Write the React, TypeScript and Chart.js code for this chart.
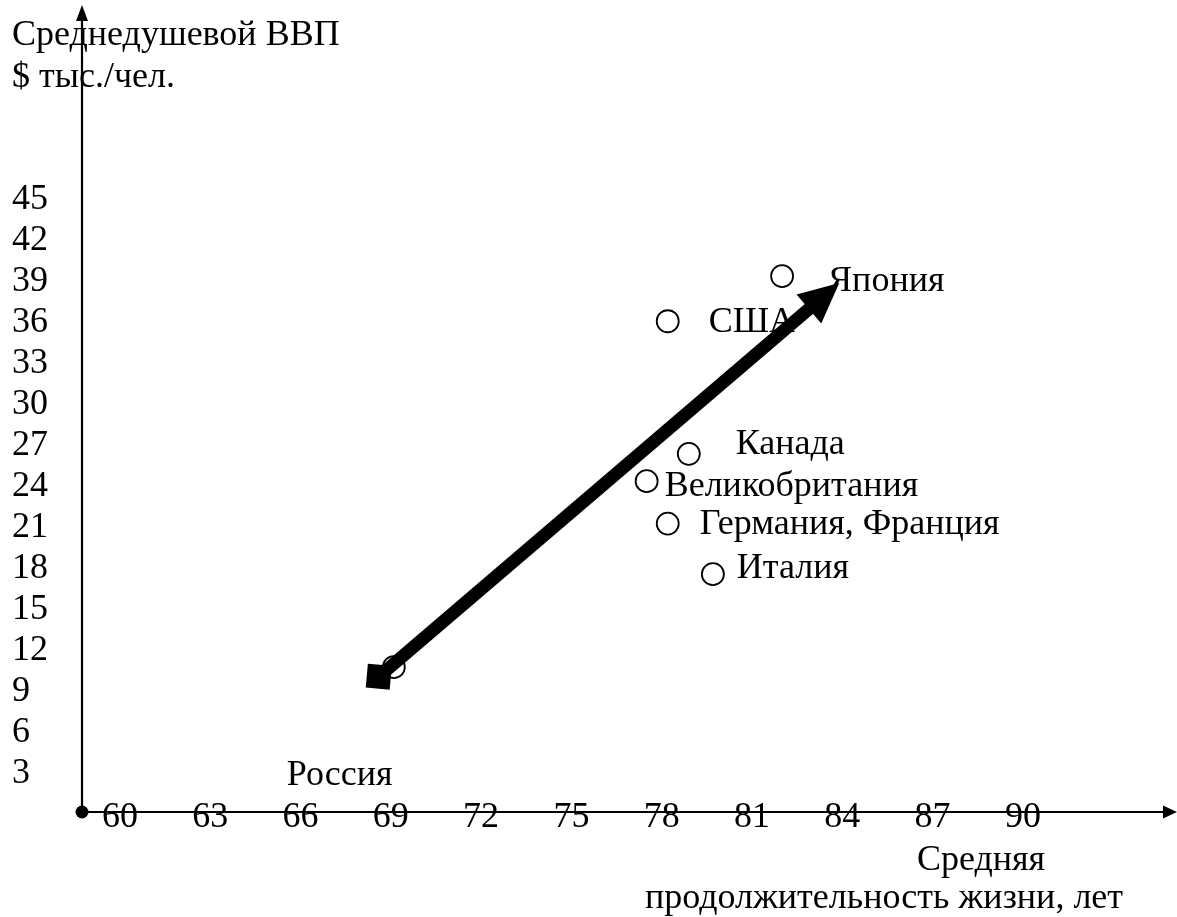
import React, { useEffect, useRef } from "react";
import { Chart, registerables } from "chart.js";

Chart.register(...registerables);

// ---- data ----
const countries = ["Россия", "Япония", "США", "Канада", "Великобритания", "Германия, Франция", "Италия"];
const lifeExpectancy = [69.1, 82.0, 78.2, 78.9, 77.5, 78.2, 79.7];
const gdpPerCapita = [10.6, 39.2, 35.9, 26.2, 24.2, 21.1, 17.4];
const xTickValues = [60, 63, 66, 69, 72, 75, 78, 81, 84, 87, 90];
const yTickValues = [3, 6, 9, 12, 15, 18, 21, 24, 27, 30, 33, 36, 39, 42, 45];
const trendX = [68.6, 83.9];
const trendY = [9.9, 38.7];
const yTitleLines = ["Среднедушевой ВВП", "$ тыс./чел."];
const xTitleLines = ["Средняя", "продолжительность жизни, лет"];

// label placement relative to each point (pixels: dx to text start, dy to baseline)
const labelOffsets: [number, number][] = [
  [-107, 118],
  [46, 15],
  [41, 11],
  [47, 0],
  [18, 15],
  [32, 10],
  [24, 4],
];

const FONT = '36px "Liberation Serif", "Times New Roman", serif';

const overlayPlugin = {
  id: "overlay",
  beforeDatasetsDraw(chart: any) {
    const { ctx, chartArea, scales } = chart;
    const x = scales.x;
    const y = scales.y;
    const ox = chartArea.left;
    const oy = y.getPixelForValue(0);
    ctx.save();
    ctx.strokeStyle = "#000";
    ctx.fillStyle = "#000";
    ctx.lineWidth = 2.2;
    // y axis
    ctx.beginPath();
    ctx.moveTo(ox, oy);
    ctx.lineTo(ox, chartArea.top + 10);
    ctx.stroke();
    ctx.beginPath();
    ctx.moveTo(ox, chartArea.top - 1);
    ctx.lineTo(ox - 6, chartArea.top + 15);
    ctx.lineTo(ox + 6, chartArea.top + 15);
    ctx.closePath();
    ctx.fill();
    // x axis
    ctx.beginPath();
    ctx.moveTo(ox, oy);
    ctx.lineTo(chartArea.right - 10, oy);
    ctx.stroke();
    ctx.beginPath();
    ctx.moveTo(chartArea.right, oy);
    ctx.lineTo(chartArea.right - 14, oy - 6.5);
    ctx.lineTo(chartArea.right - 14, oy + 6.5);
    ctx.closePath();
    ctx.fill();
    // origin dot
    ctx.beginPath();
    ctx.arc(ox, oy, 6.5, 0, Math.PI * 2);
    ctx.fill();

    ctx.font = FONT;
    ctx.textBaseline = "alphabetic";
    // y tick labels
    ctx.textAlign = "left";
    yTickValues.forEach((v) => {
      ctx.fillText(String(v), 12, y.getPixelForValue(v) + 12);
    });
    // x tick labels
    ctx.textAlign = "center";
    xTickValues.forEach((v) => {
      ctx.fillText(String(v), x.getPixelForValue(v), oy + 15);
    });
    // axis titles
    ctx.textAlign = "left";
    ctx.fillText(yTitleLines[0], 12, 45);
    ctx.fillText(yTitleLines[1], 12, 87);
    ctx.textAlign = "center";
    ctx.fillText(xTitleLines[0], 981, 870);
    ctx.fillText(xTitleLines[1], 884, 908);
    ctx.restore();
  },
  afterDatasetsDraw(chart: any) {
    const { ctx, scales } = chart;
    const x = scales.x;
    const y = scales.y;
    ctx.save();
    ctx.fillStyle = "#000";
    ctx.strokeStyle = "#000";
    // country labels
    ctx.font = FONT;
    ctx.textAlign = "left";
    ctx.textBaseline = "alphabetic";
    countries.forEach((name, i) => {
      const px = x.getPixelForValue(lifeExpectancy[i]);
      const py = y.getPixelForValue(gdpPerCapita[i]);
      ctx.fillText(name, px + labelOffsets[i][0], py + labelOffsets[i][1]);
    });
    // trend arrow
    const x0 = x.getPixelForValue(trendX[0]);
    const y0 = y.getPixelForValue(trendY[0]);
    const x1 = x.getPixelForValue(trendX[1]);
    const y1 = y.getPixelForValue(trendY[1]);
    const ang = Math.atan2(y1 - y0, x1 - x0);
    const headLen = 40;
    const headW = 38;
    const bx = x1 - headLen * Math.cos(ang);
    const by = y1 - headLen * Math.sin(ang);
    ctx.lineWidth = 13;
    ctx.beginPath();
    ctx.moveTo(x0, y0);
    ctx.lineTo(bx + 4 * Math.cos(ang), by + 4 * Math.sin(ang));
    ctx.stroke();
    const nx = -Math.sin(ang);
    const ny = Math.cos(ang);
    ctx.beginPath();
    ctx.moveTo(x1, y1);
    ctx.lineTo(bx + (nx * headW) / 2, by + (ny * headW) / 2);
    ctx.lineTo(bx - (nx * headW) / 2, by - (ny * headW) / 2);
    ctx.closePath();
    ctx.fill();
    // square at the start
    ctx.translate(x0, y0);
    ctx.rotate((5 * Math.PI) / 180);
    ctx.fillRect(-12, -12, 24, 24);
    ctx.restore();
  },
};

export default function App() {
  const canvasRef = useRef<HTMLCanvasElement | null>(null);

  useEffect(() => {
    const canvas = canvasRef.current;
    if (!canvas) return;
    const chart = new Chart(canvas, {
      type: "scatter",
      data: {
        datasets: [
          {
            label: "Страны",
            data: countries.map((_, i) => ({ x: lifeExpectancy[i], y: gdpPerCapita[i] })),
            pointRadius: 11,
            pointBorderWidth: 1.8,
            borderColor: "#000",
            backgroundColor: "rgba(255,255,255,0)",
            pointHoverRadius: 11,
          },
        ],
      },
      options: {
        responsive: false,
        animation: false,
        devicePixelRatio: 1,
        layout: {
          autoPadding: false,
          padding: { left: 82, top: 6, right: 0, bottom: 105 },
        },
        plugins: {
          legend: { display: false },
          tooltip: { enabled: false },
        },
        scales: {
          x: { type: "linear", min: 58.74, max: 95.12, display: false },
          y: { type: "linear", min: 0, max: 58.96, display: false },
        },
      },
      plugins: [overlayPlugin],
    });
    return () => chart.destroy();
  }, []);

  return (
    <div style={{ position: "absolute", left: 0, top: 0, width: 1177, height: 917, background: "#fff" }}>
      <canvas ref={canvasRef} width={1177} height={917} style={{ display: "block" }} />
    </div>
  );
}
